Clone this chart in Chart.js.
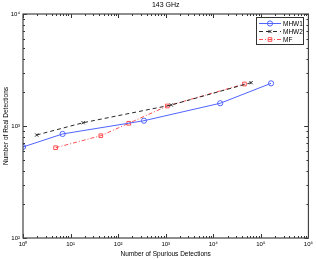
<!DOCTYPE html>
<html>
<head>
<meta charset="utf-8">
<script src="https://cdn.jsdelivr.net/npm/chart.js@4"></script>
<style>
html,body{margin:0;padding:0;background:#fff;}
#wrap{width:316px;height:260px;}
</style>
</head>
<body>
<div id="wrap"><canvas id="c" width="316" height="260"></canvas></div>
<script>
const chartTitle = '143 GHz';
const xTitle = 'Number of Spurious Detections';
const yTitle = 'Number of Real Detections';
const seriesNames = ['MHW1', 'MHW2', 'MF'];
const mhw1X = [1, 6.8, 349, 13960, 163700];
const mhw1Y = [650, 849, 1115, 1596, 2404];
const mhw2X = [1.94, 18.4, 1310, 62300];
const mhw2Y = [831, 1070, 1540, 2438];
const mfX = [4.85, 43.2, 167, 1080, 45100];
const mfY = [640, 819, 1057, 1509, 2371];
const supers = {0:'⁰',1:'¹',2:'²',3:'³',4:'⁴',5:'⁵',6:'⁶'};
const xMajor = [1, 10, 100, 1000, 10000, 100000, 1000000];
const yMajor = [100, 1000, 10000];

function pts(xs, ys){ return xs.map((x,i)=>({x:x, y:ys[i]})); }
function supLabel(v){
  const e = Math.round(Math.log10(v));
  if (Math.abs(Math.log10(v) - e) > 1e-9) return null;
  return '10' + supers[e];
}
const FONT = "'Liberation Sans', Arial, sans-serif";

const frameTicks = {
  id: 'frameTicks',
  afterDatasetsDraw(chart){
    const {ctx, chartArea:a, scales} = chart;
    const xs = scales.x, ys = scales.y;
    ctx.save();
    ctx.strokeStyle = '#333';
    ctx.lineWidth = 1;
    ctx.beginPath();
    for (let k = 0; k < 6; k++){
      for (let m = 1; m <= 10; m++){
        const v = m * Math.pow(10, k);
        const px = Math.round(xs.getPixelForValue(v)) + 0.5;
        const len = (m === 1 || m === 10) ? 4 : 2;
        ctx.moveTo(px, a.bottom); ctx.lineTo(px, a.bottom - len);
        ctx.moveTo(px, a.top); ctx.lineTo(px, a.top + len);
      }
    }
    for (let k = 2; k < 4; k++){
      for (let m = 1; m <= 10; m++){
        const v = m * Math.pow(10, k);
        const py = Math.round(ys.getPixelForValue(v)) + 0.5;
        const len = (m === 1 || m === 10) ? 4 : 2;
        ctx.moveTo(a.left, py); ctx.lineTo(a.left + len, py);
        ctx.moveTo(a.right, py); ctx.lineTo(a.right - len, py);
      }
    }
    ctx.stroke();
    ctx.strokeStyle = '#444';
    ctx.lineWidth = 1.2;
    ctx.strokeRect(a.left, a.top, a.right - a.left, a.bottom - a.top);
    ctx.fillStyle = '#000';
    ctx.font = '7px ' + FONT;
    ctx.textAlign = 'center';
    ctx.textBaseline = 'middle';
    ctx.fillText(chartTitle, (a.left + a.right) / 2, 5);
    ctx.restore();
  }
};

const boxLegend = {
  id: 'boxLegend',
  afterDraw(chart){
    const {ctx} = chart;
    const bx = 256, by = 17, bw = 47, bh = 27;
    ctx.save();
    ctx.fillStyle = '#fff';
    ctx.fillRect(bx, by, bw, bh);
    ctx.strokeStyle = '#333';
    ctx.lineWidth = 1;
    ctx.strokeRect(bx + 0.5, by + 0.5, bw, bh);
    chart.data.datasets.forEach((ds, i) => {
      const y = by + 6.5 + i * 8;
      ctx.strokeStyle = ds.borderColor;
      ctx.lineWidth = 1;
      ctx.setLineDash(ds.borderDash || []);
      ctx.beginPath();
      ctx.moveTo(bx + 3, y); ctx.lineTo(bx + 25, y);
      ctx.stroke();
      ctx.setLineDash([]);
      ctx.fillStyle = 'rgba(0,0,0,0)';
      ctx.strokeStyle = ds.borderColor;
      Chart.helpers.drawPoint(ctx, {pointStyle: ds.pointStyle, radius: ds.pointRadius, borderWidth: 1}, bx + 14, y);
      ctx.fillStyle = '#000';
      ctx.font = '6.5px ' + FONT;
      ctx.textAlign = 'left';
      ctx.textBaseline = 'middle';
      ctx.fillText(ds.label, bx + 27, y + 0.5);
    });
    ctx.restore();
  }
};

new Chart(document.getElementById('c'), {
  type: 'scatter',
  data: {
    datasets: [
      {label: seriesNames[0], data: pts(mhw1X, mhw1Y), showLine: true, borderColor: 'rgb(80,100,255)', backgroundColor: 'rgba(0,0,0,0)', borderWidth: 1, pointStyle: 'circle', pointRadius: 2.6, pointBorderWidth: 1, pointBackgroundColor: 'rgba(0,0,0,0)', tension: 0},
      {label: seriesNames[1], data: pts(mhw2X, mhw2Y), showLine: true, borderColor: 'rgb(40,40,40)', backgroundColor: 'rgba(0,0,0,0)', borderWidth: 1, borderDash: [4, 3], pointStyle: 'crossRot', pointRadius: 2.3, pointBorderWidth: 1, tension: 0},
      {label: seriesNames[2], data: pts(mfX, mfY), showLine: true, borderColor: 'rgb(255,80,80)', backgroundColor: 'rgba(0,0,0,0)', borderWidth: 1, borderDash: [4, 2, 1, 2], pointStyle: 'rect', pointRadius: 2.6, pointBorderWidth: 1, pointBackgroundColor: 'rgba(0,0,0,0)', tension: 0}
    ]
  },
  options: {
    responsive: false,
    animation: false,
    devicePixelRatio: 1,
    layout: {padding: {top: 14, right: 7, left: 0, bottom: 0}},
    plugins: {legend: {display: false}, title: {display: false}, tooltip: {enabled: false}},
    scales: {
      x: {
        type: 'logarithmic', min: 1, max: 1000000,
        afterFit(s){ s.height = 22; },
        afterBuildTicks(s){ s.ticks = xMajor.map(v => ({value: v, major: true})); },
        grid: {display: false, drawTicks: false},
        border: {display: false},
        ticks: {callback: v => supLabel(v), font: {size: 6, family: FONT}, color: '#000', padding: 3, maxRotation: 0, autoSkip: false},
        title: {display: true, text: xTitle, font: {size: 6.5, family: FONT}, color: '#000', padding: {top: 0, bottom: 2}}
      },
      y: {
        type: 'logarithmic', min: 100, max: 10000,
        afterFit(s){ s.width = 23; },
        afterBuildTicks(s){ s.ticks = yMajor.map(v => ({value: v, major: true})); },
        grid: {display: false, drawTicks: false},
        border: {display: false},
        ticks: {callback: v => supLabel(v), font: {size: 6, family: FONT}, color: '#000', padding: 3, autoSkip: false},
        title: {display: true, text: yTitle, font: {size: 6.5, family: FONT}, color: '#000', padding: {top: 2, bottom: 0}}
      }
    }
  },
  plugins: [frameTicks, boxLegend]
});
</script>
</body>
</html>
